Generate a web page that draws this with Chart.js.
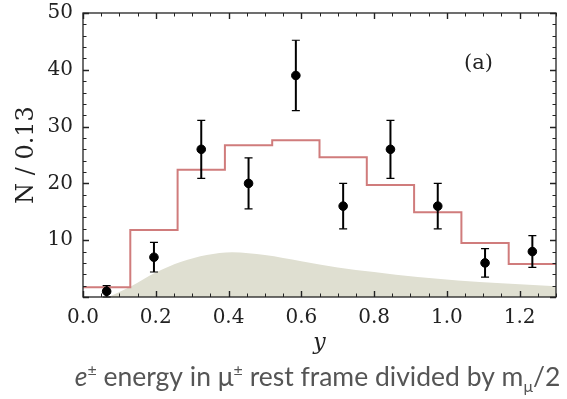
<!DOCTYPE html>
<html>
<head>
<meta charset="utf-8">
<script src="https://cdn.jsdelivr.net/npm/chart.js@4/dist/chart.umd.min.js"></script>
<style>
  html, body { margin: 0; padding: 0; background: #ffffff; }
  #wrap { width: 567px; height: 399px; position: relative; }
</style>
</head>
<body>
<div id="wrap"><canvas id="c" width="567" height="399"></canvas></div>
<script>
// Histogram bin edges (width 0.13) and expected counts per bin
const binEdges = [0, 0.13, 0.26, 0.39, 0.52, 0.65, 0.78, 0.91, 1.04, 1.17, 1.30];
const expected = [1.7, 11.8, 22.4, 26.7, 27.6, 24.6, 19.7, 14.9, 9.5, 5.8];

// Observed counts at bin centres, with their uncertainties
const binCenters = [0.065, 0.195, 0.325, 0.455, 0.585, 0.715, 0.845, 0.975, 1.105, 1.235];
const counts = [1, 7, 26, 20, 39, 16, 26, 16, 6, 8];
const errors = [1.0, 2.6, 5.1, 4.5, 6.2, 4.0, 5.1, 4.0, 2.5, 2.8];

// Background shape (shaded)
const bkgX = [0.07, 0.13, 0.20, 0.27, 0.34, 0.41, 0.50, 0.60, 0.70, 0.80, 0.92, 1.03, 1.15, 1.30];
const bkgY = [0, 1.8, 4.3, 6.2, 7.4, 7.9, 7.4, 6.3, 5.2, 4.4, 3.5, 2.9, 2.4, 1.9];

// Axis tick labels
const xTickLabels = ['0.0', '0.2', '0.4', '0.6', '0.8', '1.0', '1.2'];
const yTickLabels = ['10', '20', '30', '40', '50'];

const serif = "'DejaVu Serif', serif";

// step line: level of bin i runs from its left edge, last level closes at the right edge
const histPoints = binEdges.map((e, i) => ({ x: e, y: expected[Math.min(i, expected.length - 1)] }));
const dataPoints = binCenters.map((x, i) => ({ x: x, y: counts[i] }));
const bkgPoints = bkgX.map((x, i) => ({ x: x, y: bkgY[i] }));

// Frame with inward ticks on all four sides
const framePlugin = {
  id: 'frame',
  afterDatasetsDraw(chart) {
    const { ctx, chartArea: a, scales: { x, y } } = chart;
    ctx.save();
    ctx.strokeStyle = '#222';
    for (let k = 0; k <= 26; k++) {
      const v = k * 0.05;
      const px = Math.round(x.getPixelForValue(v)) + 0.5;
      const len = (k % 4 === 0) ? 6 : 3.5;
      ctx.lineWidth = (k % 4 === 0) ? 1.4 : 1;
      ctx.beginPath();
      ctx.moveTo(px, a.bottom); ctx.lineTo(px, a.bottom - len);
      ctx.moveTo(px, a.top); ctx.lineTo(px, a.top + len);
      ctx.stroke();
    }
    for (let k = 0; k <= 25; k++) {
      const v = k * 2;
      const py = Math.round(y.getPixelForValue(v)) + 0.5;
      const len = (k % 5 === 0) ? 6 : 3.5;
      ctx.lineWidth = (k % 5 === 0) ? 1.4 : 1;
      ctx.beginPath();
      ctx.moveTo(a.left, py); ctx.lineTo(a.left + len, py);
      ctx.moveTo(a.right, py); ctx.lineTo(a.right - len, py);
      ctx.stroke();
    }
    ctx.lineWidth = 1.3;
    ctx.strokeRect(a.left, a.top, a.right - a.left, a.bottom - a.top);
    ctx.restore();
  }
};

// Vertical error bars with small caps
const errorBarPlugin = {
  id: 'errorBars',
  beforeDatasetDraw(chart, args) {
    if (args.index !== 2) return;
    const { ctx, scales: { x, y } } = chart;
    ctx.save();
    ctx.strokeStyle = '#000';
    binCenters.forEach((cx, i) => {
      const px = x.getPixelForValue(cx);
      const top = y.getPixelForValue(counts[i] + errors[i]);
      const bot = y.getPixelForValue(Math.max(0, counts[i] - errors[i]));
      ctx.lineWidth = 2;
      ctx.beginPath();
      ctx.moveTo(px, top); ctx.lineTo(px, bot);
      ctx.stroke();
      ctx.lineWidth = 1.2;
      ctx.beginPath();
      ctx.moveTo(px - 4, top); ctx.lineTo(px + 4, top);
      ctx.moveTo(px - 4, bot); ctx.lineTo(px + 4, bot);
      ctx.stroke();
    });
    ctx.restore();
  }
};

// Panel tag and caption text
const textPlugin = {
  id: 'texts',
  afterDraw(chart) {
    const { ctx, chartArea: a, scales: { x, y } } = chart;
    ctx.save();
    ctx.fillStyle = '#222';
    ctx.font = "21px " + serif;
    ctx.textAlign = 'center';
    ctx.textBaseline = 'middle';
    ctx.fillText('(a)', x.getPixelForValue(1.087), y.getPixelForValue(41.1));

    // caption: e± energy in μ± rest frame divided by m_μ/2
    const size = 26.5;
    const small = Math.round(size * 0.62);
    const runs = [
      { t: 'e', font: `italic ${size}px Lato`, dy: 0 },
      { t: '±', font: `${small}px Lato`, dy: -size * 0.36 },
      { t: ' energy in μ', font: `${size}px Lato`, dy: 0 },
      { t: '±', font: `${small}px Lato`, dy: -size * 0.36 },
      { t: ' rest frame divided by m', font: `${size}px Lato`, dy: 0 },
      { t: 'μ', font: `${small}px Lato`, dy: size * 0.24 },
      { t: '/2', font: `${size}px Lato`, dy: 0 }
    ];
    let total = 0;
    runs.forEach(r => { ctx.font = r.font; r.w = ctx.measureText(r.t).width; total += r.w; });
    let cx = (a.left + a.right) / 2 - total / 2 - 2;
    const base = chart.height - 13;
    ctx.fillStyle = '#555';
    ctx.textAlign = 'left';
    ctx.textBaseline = 'alphabetic';
    runs.forEach(r => { ctx.font = r.font; ctx.fillText(r.t, cx, base + r.dy); cx += r.w; });
    ctx.restore();
  }
};

new Chart(document.getElementById('c'), {
  data: {
    datasets: [
      {
        type: 'line',
        data: bkgPoints,
        fill: 'origin',
        backgroundColor: '#dfdfd1',
        borderWidth: 0,
        pointRadius: 0,
        cubicInterpolationMode: 'monotone',
        order: 3
      },
      {
        type: 'line',
        data: histPoints,
        stepped: 'before',
        fill: false,
        borderColor: '#d07c7c',
        borderWidth: 2,
        pointRadius: 0,
        order: 2
      },
      {
        type: 'scatter',
        data: dataPoints,
        backgroundColor: '#000',
        borderColor: '#000',
        pointRadius: 4.3,
        pointHoverRadius: 4.3,
        order: 1
      }
    ]
  },
  options: {
    responsive: false,
    animation: false,
    events: [],
    layout: { padding: { top: 13, right: 11, left: 0, bottom: 0 } },
    plugins: { legend: { display: false }, tooltip: { enabled: false }, title: { display: false } },
    scales: {
      x: {
        type: 'linear',
        min: 0,
        max: 1.3,
        bounds: 'data',
        grid: { display: false, drawTicks: false },
        border: { display: false },
        ticks: {
          stepSize: 0.2,
          includeBounds: false,
          autoSkip: false,
          maxRotation: 0,
          padding: 9,
          color: '#222',
          font: { family: serif, size: 20 },
          callback: (v) => xTickLabels[Math.round(v / 0.2)] ?? ''
        },
        title: {
          display: true,
          text: 'y',
          color: '#222',
          font: { family: serif, size: 22, style: 'italic' },
          padding: { top: 0, bottom: 43 }
        },
        afterFit: (s) => { s.height = 102; s.paddingLeft = 0; s.paddingRight = 0; }
      },
      y: {
        type: 'linear',
        min: 0,
        max: 50,
        bounds: 'data',
        grid: { display: false, drawTicks: false },
        border: { display: false },
        ticks: {
          stepSize: 10,
          padding: 10,
          color: '#222',
          font: { family: serif, size: 20 },
          callback: (v) => (v > 0 ? yTickLabels[Math.round(v / 10) - 1] : '')
        },
        title: {
          display: true,
          text: 'N / 0.13',
          color: '#222',
          font: { family: serif, size: 24 },
          padding: { top: 12, bottom: 0 }
        },
        afterFit: (s) => { s.width = 83; s.paddingTop = 0; s.paddingBottom = 0; }
      }
    }
  },
  plugins: [errorBarPlugin, framePlugin, textPlugin]
});
</script>
</body>
</html>
